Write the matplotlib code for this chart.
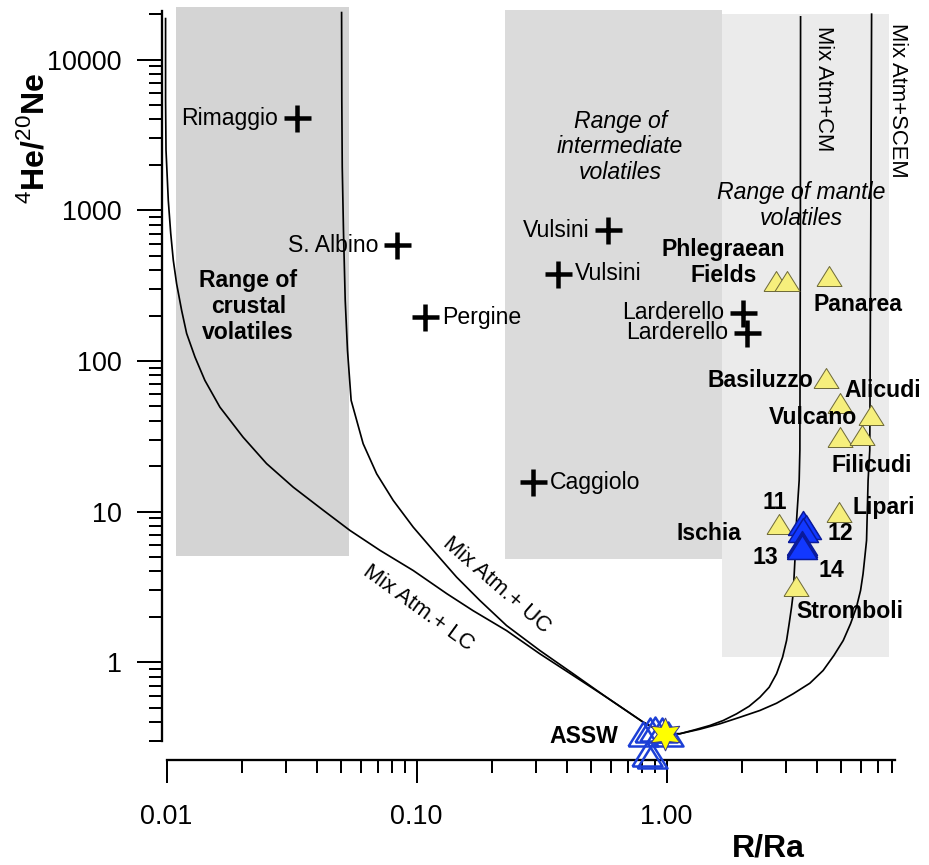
import matplotlib.pyplot as plt
from matplotlib.path import Path
from matplotlib.ticker import FixedLocator, FixedFormatter, LogLocator, NullFormatter

plt.rcParams['font.family'] = ['Liberation Sans', 'DejaVu Sans']
plt.rcParams['mathtext.fontset'] = 'custom'
plt.rcParams['mathtext.rm'] = 'Liberation Sans'
plt.rcParams['mathtext.bf'] = 'Liberation Sans:bold'
plt.rcParams['hatch.linewidth'] = 0.6

# crustal / intermediate samples (black crosses)
cross_names = ["Rimaggio", "S. Albino", "Pergine", "Vulsini", "Vulsini",
               "Larderello", "Larderello", "Caggiolo"]
cross_r = [0.0331, 0.0832, 0.108, 0.584, 0.368, 2.025, 2.09, 0.293]
cross_hene = [4070, 585, 194, 736, 379, 208, 154, 15.7]

# mantle samples (yellow triangles)
mantle_r = [2.75, 3.04, 4.46, 4.33, 4.92, 6.59, 4.96, 6.03, 2.81, 4.91, 3.28]
mantle_hene = [337, 340, 366, 77.3, 52.5, 43.6, 31.2, 32.3, 8.21, 9.98, 3.21]

# samples 13-14 (blue triangles)
blue_r = [3.52, 3.60, 3.52, 3.47, 3.49, 3.47]
blue_hene = [8.37, 7.88, 7.49, 6.17, 5.96, 5.80]

# ASSW samples (open triangles) and air star
assw_r = [0.806, 0.857, 0.898, 0.955, 1.015, 0.832, 0.871]
assw_hene = [0.335, 0.352, 0.361, 0.352, 0.335, 0.246, 0.240]
star_r = [0.984]
star_hene = [0.335]

# mixing curves
lc_r = [0.0099, 0.0099, 0.00994, 0.01015, 0.01038, 0.01063, 0.01096, 0.01148,
        0.01202, 0.01298, 0.01422, 0.01633, 0.0202, 0.0251, 0.0321, 0.0423,
        0.0541, 0.0714, 0.0969, 0.132, 0.168, 0.229, 0.311, 0.423, 0.575,
        0.806, 0.984]
lc_hene = [18700, 5370, 2500, 1164, 703, 465, 325, 216, 152, 106, 74.2, 49.3,
           31.2, 20.8, 14.5, 10.2, 7.49, 5.52, 4.06, 2.85, 2.20, 1.62, 1.137,
           0.816, 0.585, 0.400, 0.335]
uc_r = [0.0501, 0.0502, 0.0504, 0.0510, 0.0518, 0.0529, 0.0547, 0.0611, 0.0692,
        0.0806, 0.0969, 0.1165, 0.1445, 0.179, 0.229, 0.311, 0.423, 0.575,
        0.806, 0.984]
uc_hene = [20500, 5370, 1936, 703, 252, 117.4, 54.7, 28.2, 17.8, 11.85, 7.88,
           5.52, 3.67, 2.57, 1.75, 1.196, 0.838, 0.585, 0.400, 0.335]
cm_r = [3.436, 3.43, 3.414, 3.392, 3.311, 3.261, 3.21, 3.162, 3.093, 3.02,
        2.911, 2.754, 2.573, 2.362, 2.14, 1.905, 1.684, 1.490, 1.298, 1.130, 0.984]
cm_hene = [19200, 735, 25.5, 16.1, 8.73, 4.73, 2.85, 2.32, 1.80, 1.393, 1.080,
           0.838, 0.682, 0.585, 0.510, 0.454, 0.410, 0.380, 0.356, 0.335, 0.335]
scem_r = [6.61, 6.56, 6.50, 6.40, 6.31, 6.21, 6.11, 5.97, 5.75, 5.445, 5.09,
          4.67, 4.23, 3.743, 3.21, 2.754, 2.362, 1.965, 1.634, 1.359, 1.130, 0.984]
scem_hene = [20000, 735, 25.5, 16.1, 6.43, 4.98, 3.86, 2.99, 2.32, 1.80, 1.393,
             1.108, 0.881, 0.725, 0.617, 0.534, 0.478, 0.431, 0.390, 0.359, 0.335, 0.335]

# shaded ranges: R/Ra from-to, He/Ne from-to
crust_box = [0.01086, 0.0536, 5.03, 22300]
inter_box = [0.2255, 1.66, 4.86, 21200]
mantle_box = [1.66, 7.77, 1.08, 20200]

tri = Path([(-1, -0.8), (1, -0.8), (0, 0.8), (-1, -0.8)])

fig = plt.figure(figsize=(929 / 72, 865 / 72), dpi=72)
ax = fig.add_axes([0.1794, 0.1434, 0.784, 0.8439])
ax.set_xscale('log')
ax.set_yscale('log')
ax.set_xlim(0.01, 8.2)
ax.set_ylim(0.3, 21000)

ax.fill_between(crust_box[:2], crust_box[2], crust_box[3], color='#d4d4d4',
                lw=0, zorder=0, clip_on=False)
ax.fill_between(mantle_box[:2], mantle_box[2], mantle_box[3], color='#ebebeb',
                lw=0, zorder=0, clip_on=False)
ax.fill_between(inter_box[:2], inter_box[2], inter_box[3], facecolor='#e6e6e6',
                edgecolor='#b8b8b8', hatch='......', lw=0, zorder=0, clip_on=False)

# mixing lines
for xs, ys in [(lc_r, lc_hene), (uc_r, uc_hene), (cm_r, cm_hene), (scem_r, scem_hene)]:
    ax.plot(xs, ys, color='black', lw=1.7, zorder=2, clip_on=False)

# region and curve texts
ax.text(0.0212, 230, "Range of\ncrustal\nvolatiles", fontsize=23, fontweight='bold',
        ha='center', va='center', linespacing=1.15)
ax.text(0.652, 2630, "Range of\nintermediate\nvolatiles", fontsize=23, style='italic',
        ha='center', va='center', linespacing=1.15)
ax.text(3.467, 1078, "Range of mantle\nvolatiles", fontsize=23, style='italic',
        ha='center', va='center', linespacing=1.15)
ax.text(4.26, 6450, "Mix Atm+CM", fontsize=22, rotation=-90, ha='center', va='center')
ax.text(8.36, 5370, "Mix Atm+SCEM", fontsize=22, rotation=-90, ha='center', va='center')
ax.text(0.2096, 3.23, "Mix Atm.+ UC", fontsize=22, rotation=-41, rotation_mode='anchor',
        ha='center', va='center')
ax.text(0.1012, 2.27, "Mix Atm.+ LC", fontsize=22, rotation=-36, rotation_mode='anchor',
        ha='center', va='center')

# crosses
ax.plot(cross_r, cross_hene, '+', color='black', ms=27, mew=4.5, zorder=4, ls='none')
cross_dx = [-18.5, -18.5, 17, -18.5, 17, -18.5, -18.5, 17]
for name, x, y, dx in zip(cross_names, cross_r, cross_hene, cross_dx):
    ax.annotate(name, (x, y), xytext=(dx, 0), textcoords='offset points',
                ha='right' if dx < 0 else 'left', va='center', fontsize=23)

# triangles
ax.plot(mantle_r, mantle_hene, marker=tri, ls='none', ms=25, mfc='#f6ef7c',
        mec='#6f6b3a', mew=1, zorder=5)
ax.plot(blue_r, blue_hene, marker=tri, ls='none', ms=30, mfc='#1238ff',
        mec='#0a1a9a', mew=1.5, zorder=5)
ax.plot(assw_r, assw_hene, marker=tri, ls='none', ms=30, mfc='none',
        mec='#1c3fd6', mew=2.5, zorder=5, clip_on=False)
ax.plot(star_r, star_hene, marker=(6, 1, 0), ls='none', ms=33, mfc='#ffff00',
        mec='#3a3a8a', mew=1, zorder=6, clip_on=False)

mantle_labels = [
    ("Phlegraean\nFields", 0, -52.7, 19, 'center'),
    ("Panarea", 2, 29.3, -28.3, 'center'),
    ("Basiluzzo", 3, -12.5, -2.7, 'right'),
    ("Alicudi", 4, 5.3, 12.7, 'left'),
    ("Vulcano", 5, -14.6, -2, 'right'),
    ("Filicudi", 6, -8.5, -28.3, 'left'),
    ("11", 8, -4, 22.3, 'center'),
    ("Ischia", 8, -37.3, -9.3, 'right'),
    ("Lipari", 9, 13.5, 4.5, 'left'),
    ("12", 9, 1, -22.1, 'center'),
    ("Stromboli", 10, 1.2, -25.5, 'left'),
]
for text, i, dx, dy, ha in mantle_labels:
    ax.annotate(text, (mantle_r[i], mantle_hene[i]), xytext=(dx, dy),
                textcoords='offset points', ha=ha, va='center', fontsize=23,
                fontweight='bold', linespacing=1.2, zorder=7)
ax.annotate("13", (blue_r[5], blue_hene[5]), xytext=(-36.7, -10.6), textcoords='offset points',
            ha='center', va='center', fontsize=23, fontweight='bold')
ax.annotate("14", (blue_r[5], blue_hene[5]), xytext=(29.3, -23.3), textcoords='offset points',
            ha='center', va='center', fontsize=23, fontweight='bold')
ax.annotate("ASSW", (star_r[0], star_hene[0]), xytext=(-46.7, -2.7), textcoords='offset points',
            ha='right', va='center', fontsize=23, fontweight='bold')

# axes styling
for side in ['top', 'right']:
    ax.spines[side].set_visible(False)
ax.spines['left'].set_position(('outward', 5))
ax.spines['bottom'].set_position(('outward', 19))
for side in ['left', 'bottom']:
    ax.spines[side].set_linewidth(2.3)

ax.xaxis.set_major_locator(FixedLocator([0.01, 0.1, 1]))
ax.xaxis.set_major_formatter(FixedFormatter(['0.01', '0.10', '1.00']))
ax.xaxis.set_minor_locator(LogLocator(base=10, subs=range(2, 10), numticks=20))
ax.xaxis.set_minor_formatter(NullFormatter())
ax.yaxis.set_major_locator(FixedLocator([1, 10, 100, 1000, 10000]))
ax.yaxis.set_major_formatter(FixedFormatter(['1', '10', '100', '1000', '10000']))
ax.yaxis.set_minor_locator(LogLocator(base=10, subs=range(2, 10), numticks=20))
ax.yaxis.set_minor_formatter(NullFormatter())

ax.tick_params(axis='y', which='major', length=25, width=2, pad=15, labelsize=27)
ax.tick_params(axis='y', which='minor', length=13, width=2)
ax.tick_params(axis='x', which='major', length=23, width=2, pad=21, labelsize=27)
ax.tick_params(axis='x', which='minor', length=13, width=2)

ax.set_xlabel("R/Ra", fontsize=32, fontweight='bold')
ax.xaxis.set_label_coords(0.8256, -0.127)
ax.set_ylabel(r"$^{4}$He/$^{20}$Ne", fontsize=32, fontweight='bold')
ax.yaxis.set_label_coords(-0.16, 0.826)

fig.savefig('out.png', dpi=72)
